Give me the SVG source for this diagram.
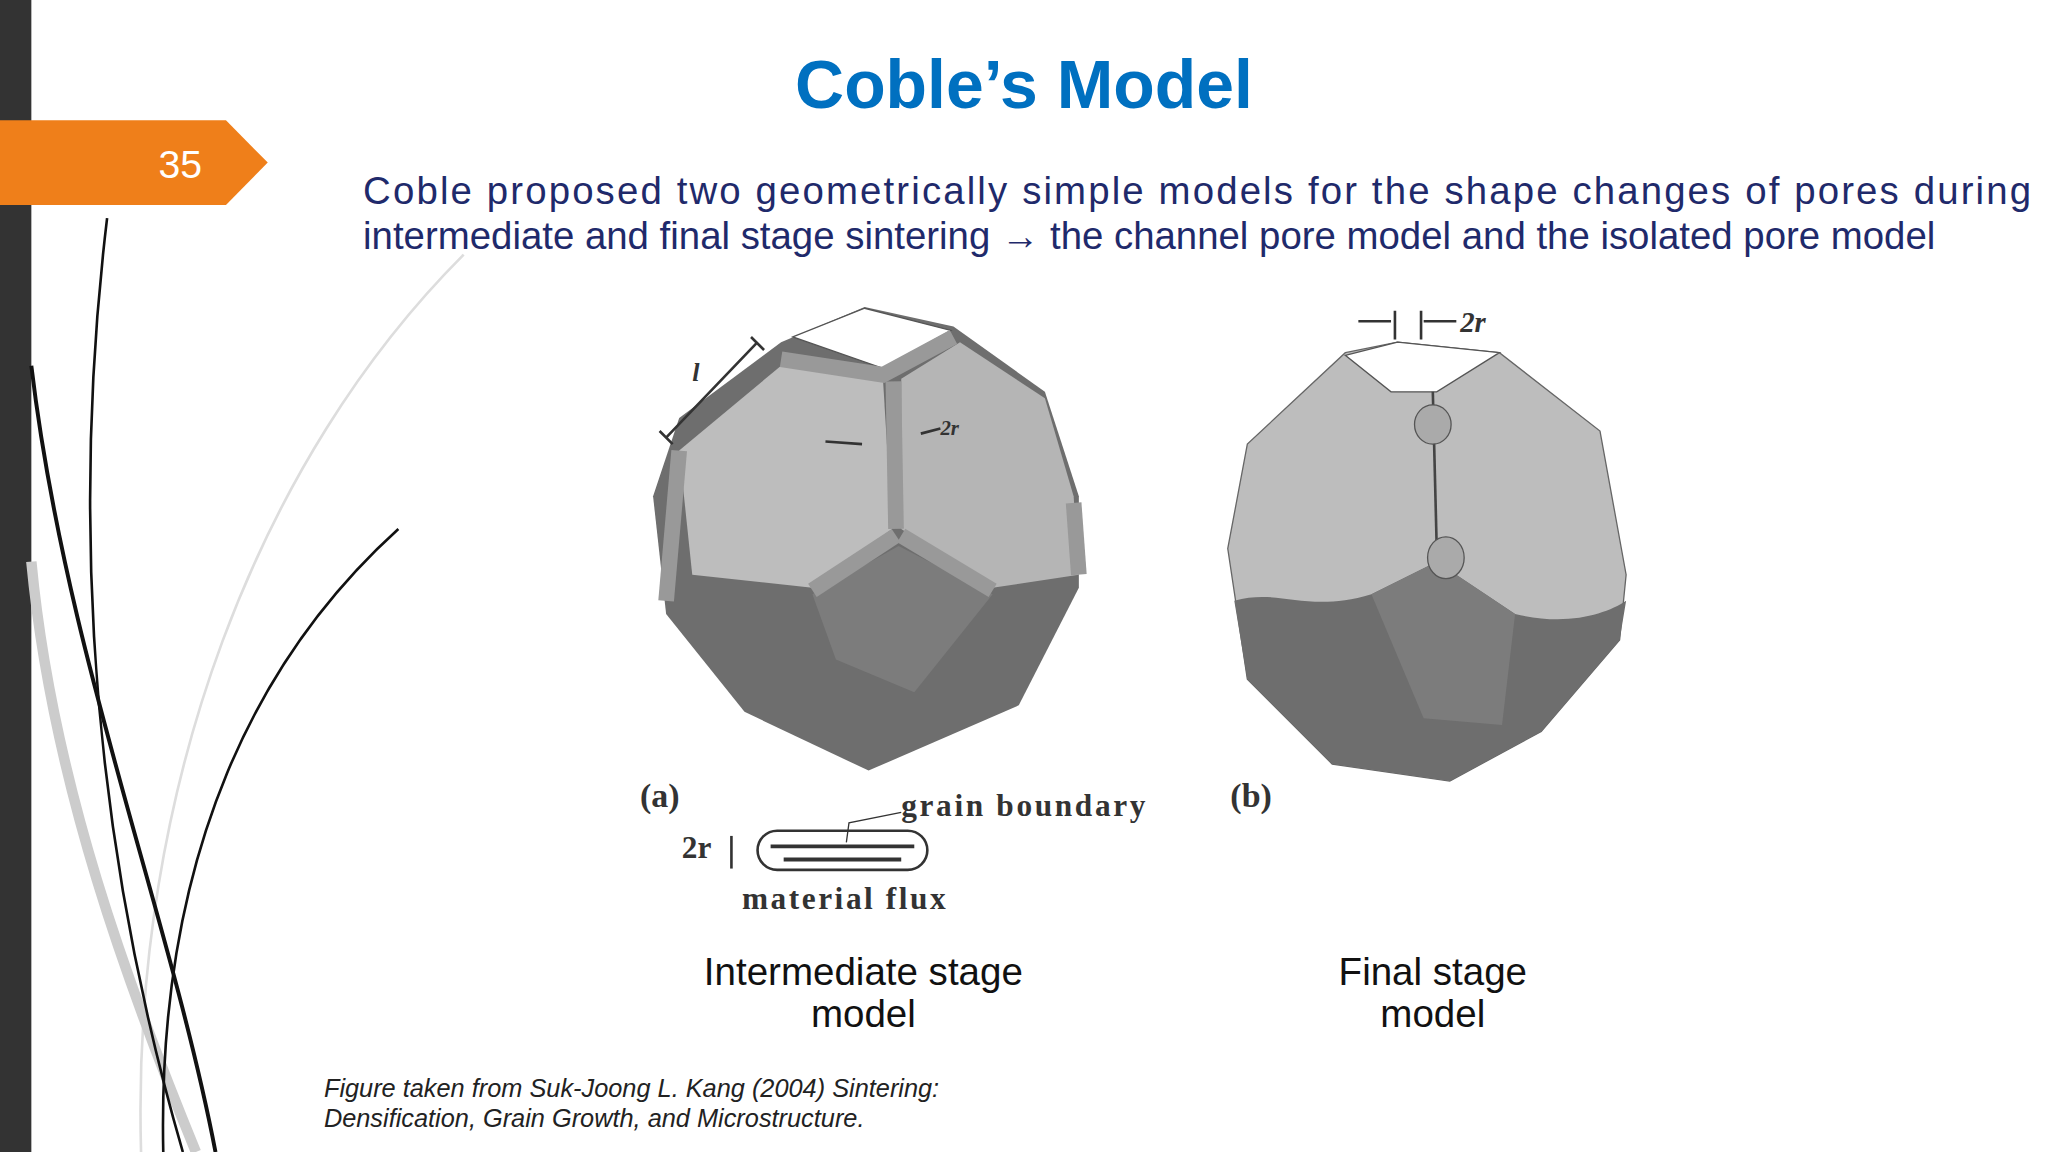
<svg xmlns="http://www.w3.org/2000/svg" width="2048" height="1152" viewBox="0 0 2048 1152">
<style>
.t{font-family:"Liberation Sans",Arial,sans-serif}
.s{font-family:"Liberation Serif","Times New Roman",serif;font-weight:bold;fill:#333}
.cap{font-family:"Liberation Sans",Arial,sans-serif;font-size:29.5px;fill:#111;text-anchor:middle}
</style>
<rect width="2048" height="1152" fill="#fff"/>
<g transform="scale(1.30612)">
<g id="decor" fill="none">
<rect x="0" y="0" width="24" height="882" fill="#333"/>
<path d="M355,195 C200,350 100,600 108,882" stroke="#ddd" stroke-width="2"/>
<path d="M24,430 C40,600 100,760 150,882" stroke="#ccc" stroke-width="8"/>
<path d="M82,167 C60,350 58,600 140,882" stroke="#111" stroke-width="2"/>
<path d="M24,280 C50,500 130,700 165,882" stroke="#111" stroke-width="3"/>
<path d="M305,405 C200,500 120,650 125,882" stroke="#111" stroke-width="2"/>
</g>
<g id="tab">
<polygon points="0,92 173,92 205,124.5 173,157 0,157" fill="#EF7F1A"/>
<text x="138" y="136" class="t" font-size="30" fill="#fff" text-anchor="middle">35</text>
</g>
<text x="784" y="83" class="t" font-size="52" font-weight="bold" fill="#0070C0" text-anchor="middle">Coble’s Model</text>
<g class="t" font-size="29.4" fill="#1F2A6B">
<text x="278" y="156" textLength="1277" lengthAdjust="spacing">Coble proposed two geometrically simple models for the shape changes of pores during</text>
<text x="278" y="191">intermediate and final stage sintering → the channel pore model and the isolated pore model</text>
</g>
<g id="figA">
<polygon points="598,262 662,235 730,250 800,300 826,380 826,450 780,540 665,590 570,545 510,470 500,380 520,320" fill="#6e6e6e"/>
<polygon points="520,345 598,280 676,290 683,405 622,450 530,440" fill="#bdbdbd"/>
<polygon points="690,290 735,262 800,305 822,380 826,440 760,450 690,405" fill="#b5b5b5"/>
<polygon points="622,455 688,418 760,455 700,530 640,505" fill="#7c7c7c"/>
<polygon points="607,258 662,236 728,253 676,282" fill="#fff" stroke="#555"/>
<g stroke="#999" stroke-width="12" fill="none">
<path d="M684,292 L686,405"/><path d="M686,410 L622,452"/><path d="M690,410 L760,452"/>
<path d="M598,275 L676,287 L730,258"/><path d="M520,345 L510,460"/><path d="M822,385 L826,440"/>
</g>
<path d="M510,335 L580,262 M575,258 L585,268 M505,330 L515,340" stroke="#333" stroke-width="2"/>
<text x="530" y="292" class="s" font-size="20" font-style="italic">l</text>
<path d="M632,338 L660,340 M720,328 L705,332" stroke="#333" stroke-width="2"/>
<text x="720" y="333" class="s" font-size="16" font-style="italic">2r</text>
<text x="490" y="618" class="s" font-size="26">(a)</text>
<text x="690" y="625" class="s" font-size="24" textLength="187" lengthAdjust="spacing">grain boundary</text>
<path d="M690,622 L650,630 L648,645" stroke="#333" fill="none"/>
<rect x="580" y="636" width="130" height="30" rx="15" fill="none" stroke="#333" stroke-width="2"/>
<path d="M590,648 L700,648 M600,658 L690,658" stroke="#333" stroke-width="3"/>
<path d="M560,640 L560,665" stroke="#333" stroke-width="2"/>
<text x="522" y="657" class="s" font-size="24">2r</text>
<text x="568" y="696" class="s" font-size="24" textLength="156" lengthAdjust="spacing">material flux</text>
</g>
<g id="figB">
<polygon points="1030,270 1070,262 1148,270 1225,330 1245,440 1240,490 1180,560 1110,598 1020,585 955,520 940,420 955,340" fill="#bdbdbd" stroke="#666"/>
<path d="M945,460 C980,450 1000,470 1050,455 L1100,430 L1160,470 C1200,480 1230,470 1245,460 L1240,490 1180,560 1110,598 1020,585 955,520 Z" fill="#6e6e6e"/>
<polygon points="1050,455 1100,430 1160,470 1150,555 1090,550" fill="#7c7c7c"/>
<polygon points="1030,272 1070,262 1148,270 1100,300 1065,300" fill="#fff" stroke="#555"/>
<path d="M1097,300 L1100,420" stroke="#444" stroke-width="2"/>
<ellipse cx="1097" cy="325" rx="14" ry="15" fill="#aaa" stroke="#555"/>
<ellipse cx="1107" cy="427" rx="14" ry="16" fill="#aaa" stroke="#555"/>
<path d="M1040,246 L1065,246 M1115,246 L1090,246 M1068,238 L1068,260 M1088,238 L1088,260" stroke="#333" stroke-width="2"/>
<text x="1118" y="254" class="s" font-size="22" font-style="italic">2r</text>
<text x="942" y="618" class="s" font-size="26">(b)</text>
</g>
<text class="cap" x="661" y="754">Intermediate stage</text>
<text class="cap" x="661" y="786">model</text>
<text class="cap" x="1097" y="754">Final stage</text>
<text class="cap" x="1097" y="786">model</text>
<g class="t" font-size="19.4" font-style="italic" fill="#222">
<text x="248" y="840">Figure taken from Suk-Joong L. Kang (2004) Sintering:</text>
<text x="248" y="863">Densification, Grain Growth, and Microstructure.</text>
</g>
</g>
</svg>
